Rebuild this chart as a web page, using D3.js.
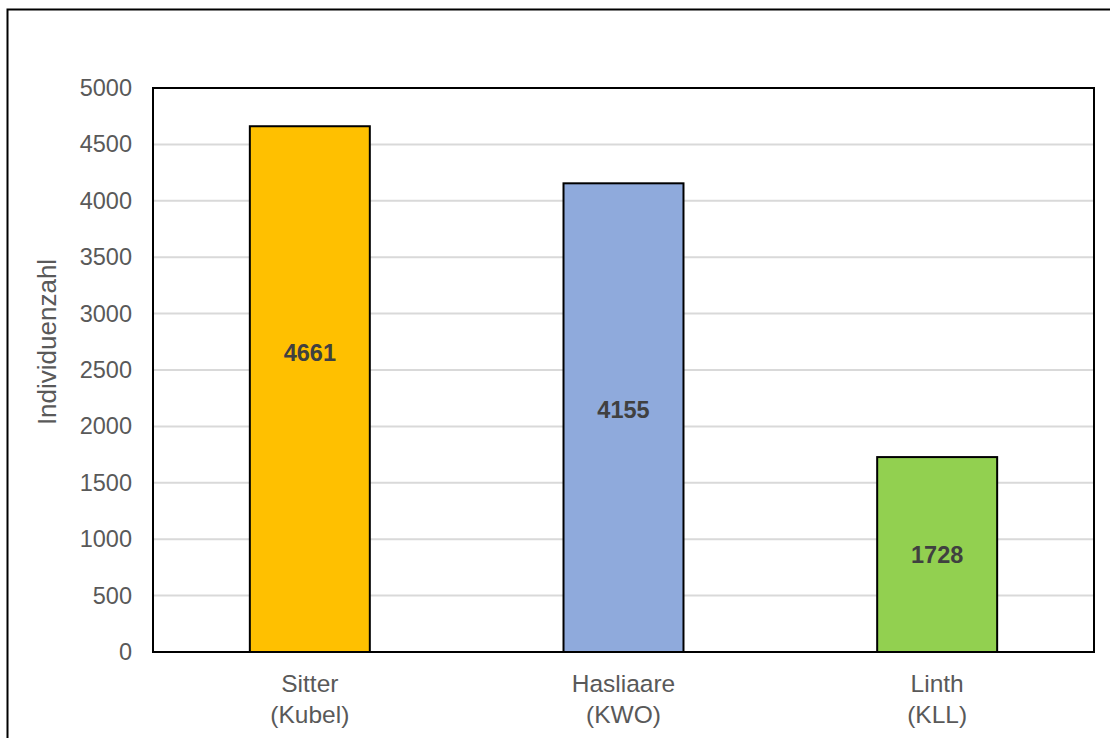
<!DOCTYPE html>
<html>
<head>
<meta charset="utf-8">
<script src="https://cdn.jsdelivr.net/npm/d3@7/dist/d3.min.js"></script>
<style>
  html, body { margin: 0; padding: 0; background: #fff; }
  svg { display: block; }
</style>
</head>
<body>
<svg id="chart" width="1110" height="738"></svg>
<script>
// Individual counts per river site
const categories = [["Sitter", "(Kubel)"], ["Hasliaare", "(KWO)"], ["Linth", "(KLL)"]];
const values = [4661, 4155, 1728];
const barColors = ["#FFC000", "#8FAADC", "#92D050"];
const yTicks = [0, 500, 1000, 1500, 2000, 2500, 3000, 3500, 4000, 4500, 5000];
const yTitle = "Individuenzahl";

// Where each value label sits, as a share of its bar's height (from the base)
const labelShare = [0.57, 0.516, 0.5];

const W = 1110, H = 738;
const plot = { left: 153, top: 88, right: 1094, bottom: 652 };
const font = "Arial, 'Liberation Sans', sans-serif";

const svg = d3.select("#chart");

// Outer chart frame (extends past the right/bottom edge)
svg.append("rect")
  .attr("x", 7.5).attr("y", 9.5)
  .attr("width", W + 20).attr("height", H + 20)
  .attr("fill", "#fff").attr("stroke", "#000").attr("stroke-width", 2);

const x = d3.scaleBand()
  .domain(categories.map(c => c.join(" ")))
  .range([plot.left, plot.right])
  .paddingInner(0.6175).paddingOuter(0.30875);

const y = d3.scaleLinear().domain([0, 5000]).range([plot.bottom, plot.top]);

// Horizontal gridlines
svg.append("g")
  .selectAll("line")
  .data(yTicks.filter(t => t > 0 && t < 5000))
  .join("line")
  .attr("x1", plot.left).attr("x2", plot.right)
  .attr("y1", d => y(d)).attr("y2", d => y(d))
  .attr("stroke", "#d9d9d9").attr("stroke-width", 2);

// Y axis tick labels
const yAxis = d3.axisLeft(y).tickValues(yTicks).tickFormat(d3.format("d"))
  .tickSize(0).tickPadding(21);
const gy = svg.append("g").attr("transform", `translate(${plot.left},0)`).call(yAxis);
gy.select(".domain").remove();
gy.selectAll("text")
  .attr("font-family", font).attr("font-size", 23.5).attr("fill", "#595959");

// Bars
svg.append("g")
  .selectAll("rect")
  .data(values)
  .join("rect")
  .attr("x", (d, i) => x(categories[i].join(" ")))
  .attr("y", d => y(d))
  .attr("width", x.bandwidth())
  .attr("height", d => y(0) - y(d))
  .attr("fill", (d, i) => barColors[i])
  .attr("stroke", "#000").attr("stroke-width", 2);

// Value labels
svg.append("g")
  .selectAll("text")
  .data(values)
  .join("text")
  .attr("x", (d, i) => x(categories[i].join(" ")) + x.bandwidth() / 2)
  .attr("y", (d, i) => y(d * labelShare[i]))
  .attr("dy", "0.35em")
  .attr("text-anchor", "middle")
  .attr("font-family", font).attr("font-size", 23.5).attr("font-weight", "bold")
  .attr("fill", "#404040")
  .text(d => d);

// Plot area border
svg.append("rect")
  .attr("x", plot.left).attr("y", plot.top)
  .attr("width", plot.right - plot.left).attr("height", plot.bottom - plot.top)
  .attr("fill", "none").attr("stroke", "#000").attr("stroke-width", 2);

// Category labels (two lines)
const xl = svg.append("g")
  .selectAll("text")
  .data(categories)
  .join("text")
  .attr("x", d => x(d.join(" ")) + x.bandwidth() / 2)
  .attr("y", 692)
  .attr("text-anchor", "middle")
  .attr("font-family", font).attr("font-size", 24.5).attr("fill", "#595959");
xl.selectAll("tspan")
  .data(d => d)
  .join("tspan")
  .attr("x", function() { return d3.select(this.parentNode).attr("x"); })
  .attr("dy", (d, i) => i === 0 ? 0 : 31)
  .text(d => d);

// Y axis title
svg.append("text")
  .attr("transform", `translate(56,${(plot.top + plot.bottom) / 2 - 28}) rotate(-90)`)
  .attr("text-anchor", "middle")
  .attr("font-family", font).attr("font-size", 26).attr("fill", "#595959")
  .text(yTitle);
</script>
</body>
</html>
